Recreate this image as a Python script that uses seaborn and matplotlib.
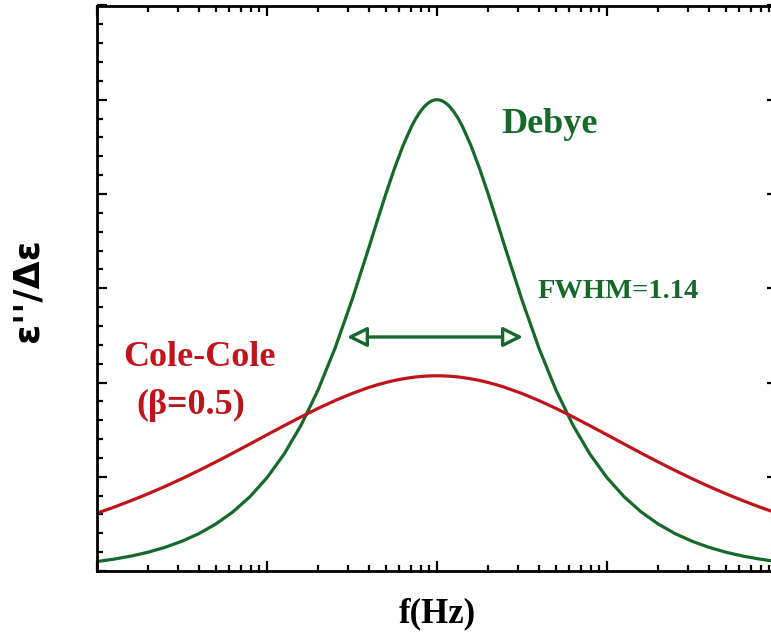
import numpy as np
import pandas as pd
import matplotlib
matplotlib.use("Agg")
import matplotlib.pyplot as plt
from matplotlib.ticker import LogLocator, MultipleLocator, NullFormatter
import seaborn as sns

# log10 of frequency (Hz); the loss peak sits at 1 Hz
log_f = [
    -2.0, -1.9, -1.8, -1.7, -1.6, -1.5, -1.4, -1.3, -1.2, -1.1, -1.0,
    -0.9, -0.8, -0.7, -0.6, -0.5, -0.4, -0.35, -0.3, -0.25, -0.2, -0.15,
    -0.125, -0.1, -0.08, -0.06, -0.04, -0.03, -0.02, -0.01,
    0.0,
    0.01, 0.02, 0.03, 0.04, 0.06, 0.08, 0.1, 0.125, 0.15, 0.2, 0.25,
    0.3, 0.35, 0.4, 0.5, 0.6, 0.7, 0.8, 0.9, 1.0, 1.1, 1.2, 1.3, 1.4,
    1.5, 1.6, 1.7, 1.8, 1.9, 2.0,
]

# normalised loss eps''/delta-eps, Debye relaxation
debye = [
    0.0100, 0.0126, 0.0158, 0.0199, 0.0251, 0.0316, 0.0397, 0.0500, 0.0628, 0.0789, 0.0990,
    0.1239, 0.1546, 0.1919, 0.2363, 0.2875, 0.3436, 0.3724, 0.4006, 0.4272, 0.4513, 0.4716,
    0.4800, 0.4870, 0.4916, 0.4953, 0.4979, 0.4988, 0.4995, 0.4999,
    0.5000,
    0.4999, 0.4995, 0.4988, 0.4979, 0.4953, 0.4916, 0.4870, 0.4800, 0.4716, 0.4513, 0.4272,
    0.4006, 0.3724, 0.3436, 0.2875, 0.2363, 0.1919, 0.1546, 0.1239, 0.0990, 0.0789, 0.0628,
    0.0500, 0.0397, 0.0316, 0.0251, 0.0199, 0.0158, 0.0126, 0.0100,
]

# normalised loss eps''/delta-eps, Cole-Cole relaxation (beta = 0.5)
cole_cole = [
    0.0614, 0.0677, 0.0746, 0.0819, 0.0897, 0.0980, 0.1067, 0.1158, 0.1252, 0.1348, 0.1445,
    0.1541, 0.1635, 0.1725, 0.1808, 0.1883, 0.1948, 0.1976, 0.2000, 0.2022, 0.2039, 0.2053,
    0.2059, 0.2063, 0.2066, 0.2068, 0.2070, 0.2070, 0.2071, 0.2071,
    0.2071,
    0.2071, 0.2071, 0.2070, 0.2070, 0.2068, 0.2066, 0.2063, 0.2059, 0.2053, 0.2039, 0.2022,
    0.2000, 0.1976, 0.1948, 0.1883, 0.1808, 0.1725, 0.1635, 0.1541, 0.1445, 0.1348, 0.1252,
    0.1158, 0.1067, 0.0980, 0.0897, 0.0819, 0.0746, 0.0677, 0.0614,
]

models = ["Debye", "Cole-Cole"]
GREEN = "#17692b"
RED = "#c0141b"

freq = 10.0 ** np.array(log_f)
df = pd.concat([
    pd.DataFrame({"f": freq, "loss": debye, "model": "Debye"}),
    pd.DataFrame({"f": freq, "loss": cole_cole, "model": "Cole-Cole"}),
], ignore_index=True)

sns.set_theme(style="ticks")
plt.rcParams["font.family"] = ["Liberation Serif", "DejaVu Serif"]

fig = plt.figure(figsize=(7.71, 6.41), dpi=100)
ax = fig.add_axes([97 / 771, 70 / 641, 680 / 771, 565.5 / 641])

sns.lineplot(data=df, x="f", y="loss", hue="model", hue_order=models,
             palette={"Debye": GREEN, "Cole-Cole": RED},
             estimator=None, linewidth=2.3, legend=False, ax=ax)

ax.set_xscale("log")
ax.set_xlim(1e-2, 1e2)
ax.set_ylim(0, 0.6)

ax.xaxis.set_major_locator(LogLocator(base=10, numticks=10))
ax.xaxis.set_minor_locator(LogLocator(base=10, subs=np.arange(2, 10), numticks=50))
ax.yaxis.set_major_locator(MultipleLocator(0.1))
ax.yaxis.set_minor_locator(MultipleLocator(0.02))
for axis in (ax.xaxis, ax.yaxis):
    axis.set_major_formatter(NullFormatter())
    axis.set_minor_formatter(NullFormatter())

ax.tick_params(which="both", direction="in", top=True, right=True,
               labelbottom=False, labelleft=False, color="black", width=1.6)
ax.tick_params(which="major", length=7.5)
ax.tick_params(which="minor", length=4.5)
for sp in ax.spines.values():
    sp.set_linewidth(2)
    sp.set_color("black")

ax.set_xlabel("f(Hz)", fontsize=25, fontweight="bold", color="black")
ax.xaxis.set_label_coords(0.5, -0.0465)
ax.set_ylabel("ε''/Δε", fontsize=26, fontweight="bold", color="black",
              family=["DejaVu Sans"])
ax.yaxis.set_label_coords(-0.077, 0.497)

ax.text(0.666, 0.7745, "Debye", transform=ax.transAxes, ha="center", va="baseline",
        fontsize=26, fontweight="bold", color=GREEN)
ax.text(0.15, 0.3625, "Cole-Cole", transform=ax.transAxes, ha="center", va="baseline",
        fontsize=26, fontweight="bold", color=RED)
ax.text(0.1375, 0.2776, "(β=0.5)", transform=ax.transAxes, ha="center", va="baseline",
        fontsize=26, fontweight="bold", color=RED)
ax.text(0.6485, 0.4828, "FWHM=1.14", transform=ax.transAxes, ha="left", va="baseline",
        fontsize=20.5, fontweight="bold", color=GREEN)

# double arrow marking the full width at half maximum
ax.annotate("", xy=(0.3676, 0.4138), xytext=(0.6265, 0.4138),
            xycoords="axes fraction", textcoords="axes fraction",
            arrowprops=dict(arrowstyle="<|-|>,head_length=0.6,head_width=0.3",
                            mutation_scale=20, fc="white", ec=GREEN, lw=2.4,
                            shrinkA=0, shrinkB=0))

fig.savefig("out.png", dpi=100)
